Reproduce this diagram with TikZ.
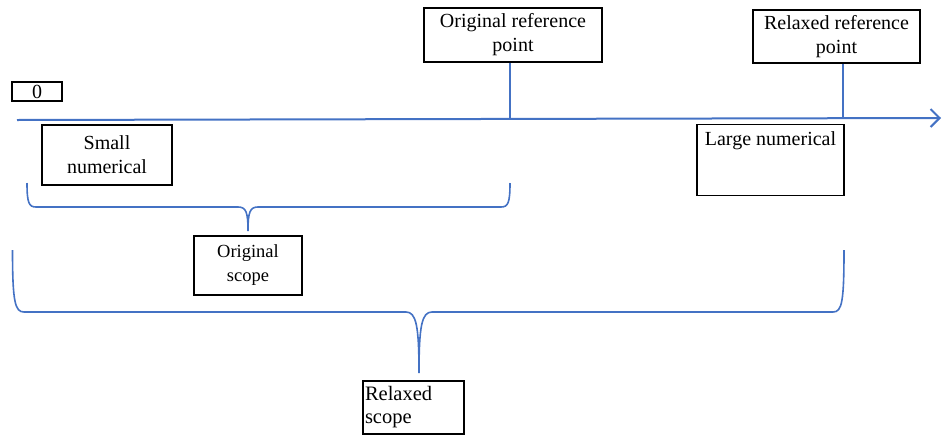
\documentclass[tikz,border=0pt]{standalone}
\usepackage{fontspec}
\setmainfont{Liberation Serif}
\usetikzlibrary{arrows.meta}
\definecolor{lineblue}{RGB}{68,114,196}
\tikzset{
  box/.style={draw=black, line width=1.5pt, fill=white, inner sep=0pt, font=\fontsize{20}{24}\selectfont, align=center},
  blueline/.style={draw=lineblue, line width=2pt},
}
\begin{document}
\begin{tikzpicture}[x=1pt,y=-1pt]
\useasboundingbox (0,0) rectangle (943,437);
% axis
\coordinate (axl) at (17,120);
\coordinate (axr) at (941,118);
\draw[blueline, -{Straight Barb[length=9pt,width=18pt,line width=2pt]}] (axl) -- (axr);
% boxes
\node[box, minimum width=50, minimum height=19] (zero) at (37,91.5) {0};
\node[box, minimum width=178, minimum height=54] (orp) at (513,35) {Original reference\\point};
\node[box, minimum width=167, minimum height=53] (rrp) at (836.5,36.5) {Relaxed reference\\point};
\node[box, minimum width=130, minimum height=60] (small) at (107,155) {Small\\numerical};
\node[box, minimum width=147, text height=17pt, text depth=46pt, inner ysep=4pt] (large) at (770.5,160) {Large numerical};
\node[box, minimum width=108, minimum height=59, font=\fontsize{18.5}{24}\selectfont] (oscope) at (248,265.5) {Original\\scope};
\node[box, text width=97pt, minimum height=53, inner xsep=2pt, align=left, font=\fontsize{20.5}{23}\selectfont] (rscope) at (413.5,407.5) {Relaxed\\scope};
% reference point stems
\coordinate (orpbase) at (510,119);
\coordinate (rrpbase) at (843,118);
\draw[blueline] (orp.south -| orpbase) -- (orpbase);
\draw[blueline] (rrp.south -| rrpbase) -- (rrpbase);
% original scope brace
\coordinate (ob) at (248,231);
\draw[blueline, line width=1.6pt] (27,183) .. controls (27,203) and (29,207) .. (36,207) -- (238,207)
  .. controls (246,207) and (248,212) .. (ob)
  .. controls (248,212) and (250,207) .. (258,207) -- (501,207)
  .. controls (508,207) and (510,203) .. (510,183);
% relaxed scope brace
\coordinate (rb) at (419,373);
\draw[blueline, line width=1.6pt] (12.5,250) .. controls (12.5,302) and (15,312) .. (24,312) -- (406,312)
  .. controls (416,312) and (419,325) .. (rb)
  .. controls (419,325) and (422,312) .. (432,312) -- (833,312)
  .. controls (842,312) and (844,302) .. (844,250);
\end{tikzpicture}
\end{document}
